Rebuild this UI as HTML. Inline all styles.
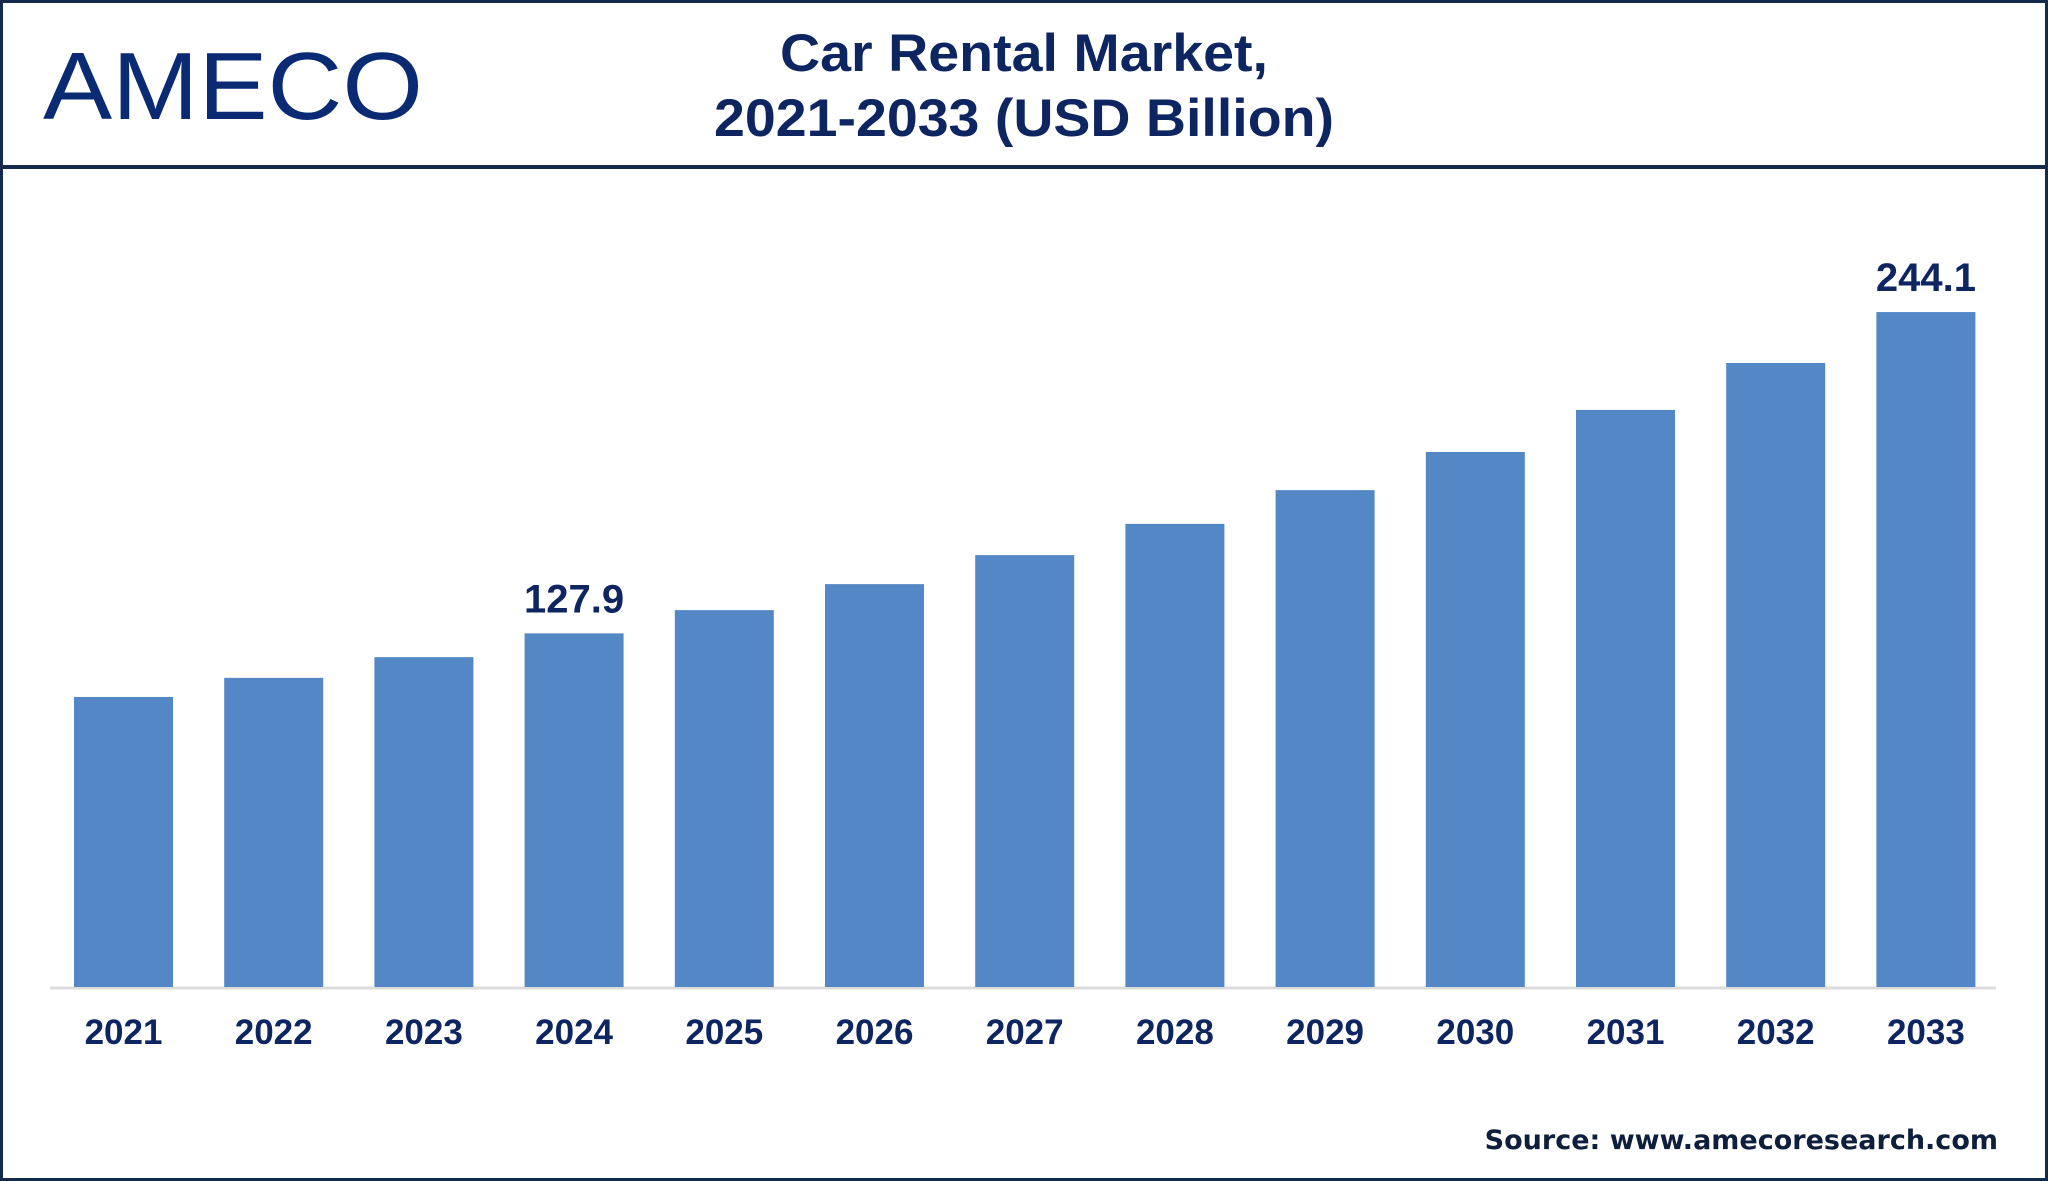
<!DOCTYPE html>
<html><head><meta charset="utf-8"><style>
html,body{margin:0;padding:0;background:#fff}
#wrap{position:relative;width:2048px;height:1181px;box-sizing:border-box;border:3px solid #142a4a;overflow:hidden;font-family:"Liberation Sans",sans-serif}
</style></head><body>
<div id="wrap">
<svg id="chart" width="2048" height="1181" style="position:absolute;left:-3px;top:-3px">
  <text x="43" y="119" font-family="Liberation Sans, sans-serif" font-size="96" fill="#0a2b74" textLength="380" lengthAdjust="spacingAndGlyphs" style="font-weight:300">AMECO</text>
  <text x="1024" y="71" text-anchor="middle" font-size="53" font-weight="bold" fill="#0d2561" textLength="488" lengthAdjust="spacingAndGlyphs">Car Rental Market,</text>
  <text x="1024" y="136" text-anchor="middle" font-size="53" font-weight="bold" fill="#0d2561" textLength="620" lengthAdjust="spacingAndGlyphs">2021-2033 (USD Billion)</text>
  <rect x="0" y="165" width="2048" height="4" fill="#142a4a"/>
  <line x1="50" y1="988" x2="1996" y2="988" stroke="#dcdcdc" stroke-width="3"/>
  <g id="bars"></g>
  <text x="1998" y="1149" text-anchor="end" font-family="DejaVu Sans, sans-serif" font-size="27" font-weight="bold" fill="#0d1f3c">Source: www.amecoresearch.com</text>
</svg>
</div>
<script>
const categories = ["2021","2022","2023","2024","2025","2026","2027","2028","2029","2030","2031","2032","2033"];
const values = [104.9,111.8,119.3,127.9,136.3,145.7,156.2,167.5,179.7,193.5,208.7,225.7,244.1];
const shownLabels = ["","","","127.9","","","","","","","","","244.1"];
const baseY = 987, pxPerUnit = 2.765, x0 = 74, pitch = 150.2, bw = 99;
const xPos = i => x0 + i * pitch;
const yPos = v => baseY - v * pxPerUnit;
const g = document.getElementById('bars');
const NS = 'http://www.w3.org/2000/svg';
categories.forEach((c, i) => {
  const r = document.createElementNS(NS, 'rect');
  r.setAttribute('x', xPos(i));
  r.setAttribute('y', yPos(values[i]));
  r.setAttribute('width', bw);
  r.setAttribute('height', baseY - yPos(values[i]));
  r.setAttribute('fill', '#5487c6');
  
  
  g.appendChild(r);
  const t = document.createElementNS(NS, 'text');
  t.setAttribute('x', xPos(i) + bw / 2);
  t.setAttribute('y', 1044);
  t.setAttribute('text-anchor', 'middle');
  t.setAttribute('font-size', '35');
  t.setAttribute('font-weight', 'bold');
  t.setAttribute('fill', '#0d2561');
  t.textContent = c;
  
  
  g.appendChild(t);
  if (shownLabels[i]) {
    const l = document.createElementNS(NS, 'text');
    l.setAttribute('x', xPos(i) + bw / 2);
    l.setAttribute('y', yPos(values[i]) - 21);
    l.setAttribute('text-anchor', 'middle');
    l.setAttribute('font-size', '40');
    l.setAttribute('font-weight', 'bold');
    l.setAttribute('fill', '#0d2561');
    l.textContent = shownLabels[i];
    
    
    g.appendChild(l);
  }
});
</script>
</body></html>
